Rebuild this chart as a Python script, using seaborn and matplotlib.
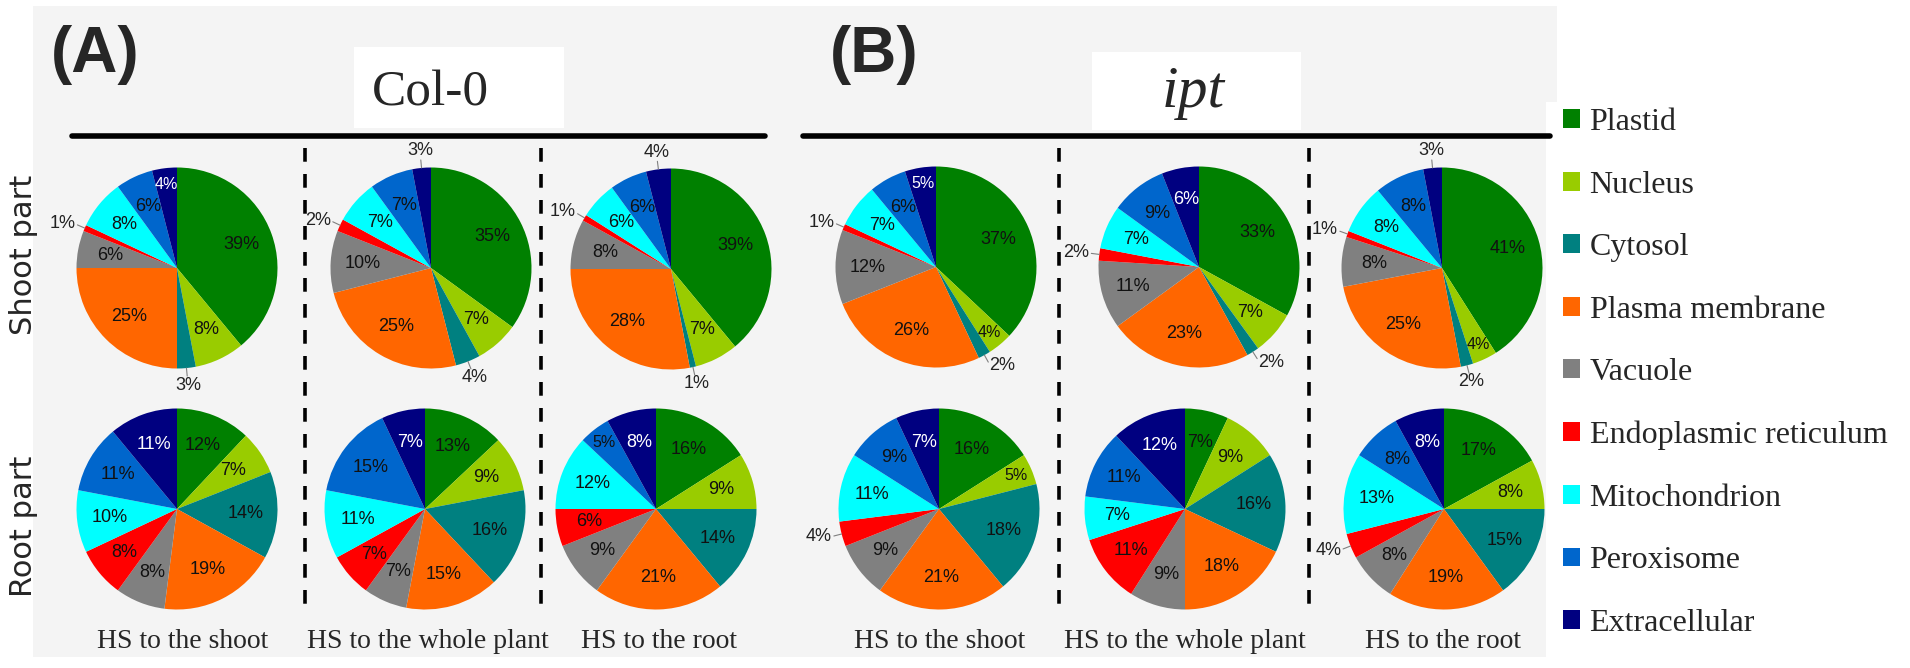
import numpy as np
import matplotlib
matplotlib.use("Agg")
import matplotlib.pyplot as plt
import seaborn as sns
from matplotlib.patches import Rectangle, Patch
from matplotlib.lines import Line2D

# ---------------- data ----------------
categories = ["Plastid", "Nucleus", "Cytosol", "Plasma membrane", "Vacuole",
              "Endoplasmic reticulum", "Mitochondrion", "Peroxisome", "Extracellular"]
conditions = ["HS to the shoot", "HS to the whole plant", "HS to the root"]
genotypes = ["Col-0", "ipt"]
panel_letters = ["(A)", "(B)"]
row_labels = ["Shoot part", "Root part"]

col0_shoot_hs_shoot = [39, 8, 3, 25, 6, 1, 8, 6, 4]
col0_shoot_hs_whole = [35, 7, 4, 25, 10, 2, 7, 7, 3]
col0_shoot_hs_root = [39, 7, 1, 28, 8, 1, 6, 6, 4]
col0_root_hs_shoot = [12, 7, 14, 19, 8, 8, 10, 11, 11]
col0_root_hs_whole = [13, 9, 16, 15, 7, 7, 11, 15, 7]
col0_root_hs_root = [16, 9, 14, 21, 9, 6, 12, 5, 8]
ipt_shoot_hs_shoot = [37, 4, 2, 26, 12, 1, 7, 6, 5]
ipt_shoot_hs_whole = [33, 7, 2, 23, 11, 2, 7, 9, 6]
ipt_shoot_hs_root = [41, 4, 2, 25, 8, 1, 8, 8, 3]
ipt_root_hs_shoot = [16, 5, 18, 21, 9, 4, 11, 9, 7]
ipt_root_hs_whole = [7, 9, 16, 18, 9, 11, 7, 11, 12]
ipt_root_hs_root = [17, 8, 15, 19, 8, 4, 13, 8, 8]

# ---------------- style ----------------
sns.set_theme(style="white")
palette = sns.color_palette(["#008000", "#99cc00", "#008080", "#ff6600", "#808080",
                             "#ff0000", "#00ffff", "#0066cc", "#000080"])
plt.rcParams['font.family'] = ['Liberation Sans', 'DejaVu Sans']

W, H = 1910, 668
fig = plt.figure(figsize=(W / 100, H / 100), dpi=100)
fig.patch.set_facecolor("white")

def fx(x):
    return x / W

def fy(y):
    return 1 - y / H

def frect(x0, y0, x1, y1, color, z=-5):
    fig.add_artist(Rectangle((fx(x0), fy(y1)), (x1 - x0) / W, (y1 - y0) / H,
                             transform=fig.transFigure, facecolor=color,
                             edgecolor="none", zorder=z))

def fline(xs, ys, **kw):
    fig.add_artist(Line2D([fx(v) for v in xs], [fy(v) for v in ys],
                          transform=fig.transFigure, **kw))

# backgrounds
frect(33, 6, 1557, 657, "#f4f4f4")
frect(1546, 102, W, H, "white", z=-4)
frect(354, 47, 564, 128, "white", z=-4)
frect(1092, 52, 1301, 130, "white", z=-4)

# panel letters and genotype titles
fig.text(fx(95), fy(55), panel_letters[0], fontsize=46, fontweight="bold",
         ha="center", va="center")
fig.text(fx(874), fy(55), panel_letters[1], fontsize=46, fontweight="bold",
         ha="center", va="center")
fig.text(fx(430), fy(93), genotypes[0], fontsize=37, family="Liberation Serif",
         ha="center", va="center")
fig.text(fx(1193), fy(93), genotypes[1], fontsize=43, family="Liberation Serif",
         style="italic", ha="center", va="center")

# header lines and dashed separators
fline([72, 765], [136, 136], color="black", lw=4)
fline([803, 1550], [136, 136], color="black", lw=4)
for xd in [305, 541, 1059, 1309]:
    fline([xd, xd], [148, 612], color="black", lw=2.6, linestyle=(0, (3.8, 3.4)))

# row labels
fig.text(fx(24), fy(255), row_labels[0], fontsize=22, family="DejaVu Sans",
         rotation=90, ha="center", va="center")
fig.text(fx(24), fy(526), row_labels[1], fontsize=22, family="DejaVu Sans",
         rotation=90, ha="center", va="center")

# pies
panels = [
    (col0_shoot_hs_shoot, (177, 268), [2, 5]),
    (col0_shoot_hs_whole, (431, 268), [2, 5, 8]),
    (col0_shoot_hs_root, (671, 269), [2, 5, 8]),
    (col0_root_hs_shoot, (177, 509), []),
    (col0_root_hs_whole, (425, 509), []),
    (col0_root_hs_root, (656, 509), []),
    (ipt_shoot_hs_shoot, (936, 267), [2, 5]),
    (ipt_shoot_hs_whole, (1199, 267), [2, 5]),
    (ipt_shoot_hs_root, (1442, 268), [2, 5, 8]),
    (ipt_root_hs_shoot, (939, 509), [5]),
    (ipt_root_hs_whole, (1185, 509), []),
    (ipt_root_hs_root, (1444, 509), [5]),
]
D = 201
for vals, (cx, cy), outside in panels:
    ax = fig.add_axes([fx(cx - D / 2), fy(cy + D / 2), D / W, D / H])
    wedges, _ = ax.pie(vals, colors=palette, startangle=90, counterclock=False,
                       radius=1, wedgeprops=dict(linewidth=0))
    ax.set_xlim(-1, 1)
    ax.set_ylim(-1, 1)
    ax.set_aspect("auto")
    ax.axis("off")
    total = float(sum(vals))
    cum = 0.0
    for i, v in enumerate(vals):
        mid = 90 - (cum + v / 2) / total * 360
        cum += v
        a = np.deg2rad(mid)
        c, s = np.cos(a), np.sin(a)
        lab = f"{v}%"
        if i in outside:
            ax.plot([c * 1.0, c * 1.08], [s * 1.0, s * 1.08], color="#808080",
                    lw=0.8, clip_on=False)
            if abs(c) > 0.45:
                ax.text(c * 1.1, s * 1.12, lab, ha="right" if c < 0 else "left",
                        va="center", fontsize=13, color="#222222")
            else:
                ax.text(c * 1.17, s * 1.17, lab, ha="center", va="center",
                        fontsize=13, color="#222222")
        else:
            col = "white" if i == 8 else "#111111"
            if v <= 5:
                r, fsz = 0.84, 11.5
            else:
                r, fsz = 0.68, 13
            ax.text(c * r, s * r, lab, ha="center", va="center",
                    fontsize=fsz, color=col)

# bottom condition labels
for x, lab in zip([183, 428, 659, 940, 1185, 1443], conditions * 2):
    fig.text(fx(x), fy(642), lab, fontsize=20, family="Liberation Serif",
             ha="center", va="center")

# legend
handles = [Patch(facecolor=palette[i], edgecolor="none", label=categories[i])
           for i in range(len(categories))]
leg = fig.legend(handles=handles, loc="upper left",
                 bbox_to_anchor=(fx(1563), fy(108)), frameon=False,
                 prop=dict(family="Liberation Serif", size=23),
                 handlelength=0.53, handleheight=0.53, handletextpad=0.3,
                 labelspacing=1.05, borderpad=0, borderaxespad=0)

fig.savefig("out.png", dpi=100, facecolor="white")
